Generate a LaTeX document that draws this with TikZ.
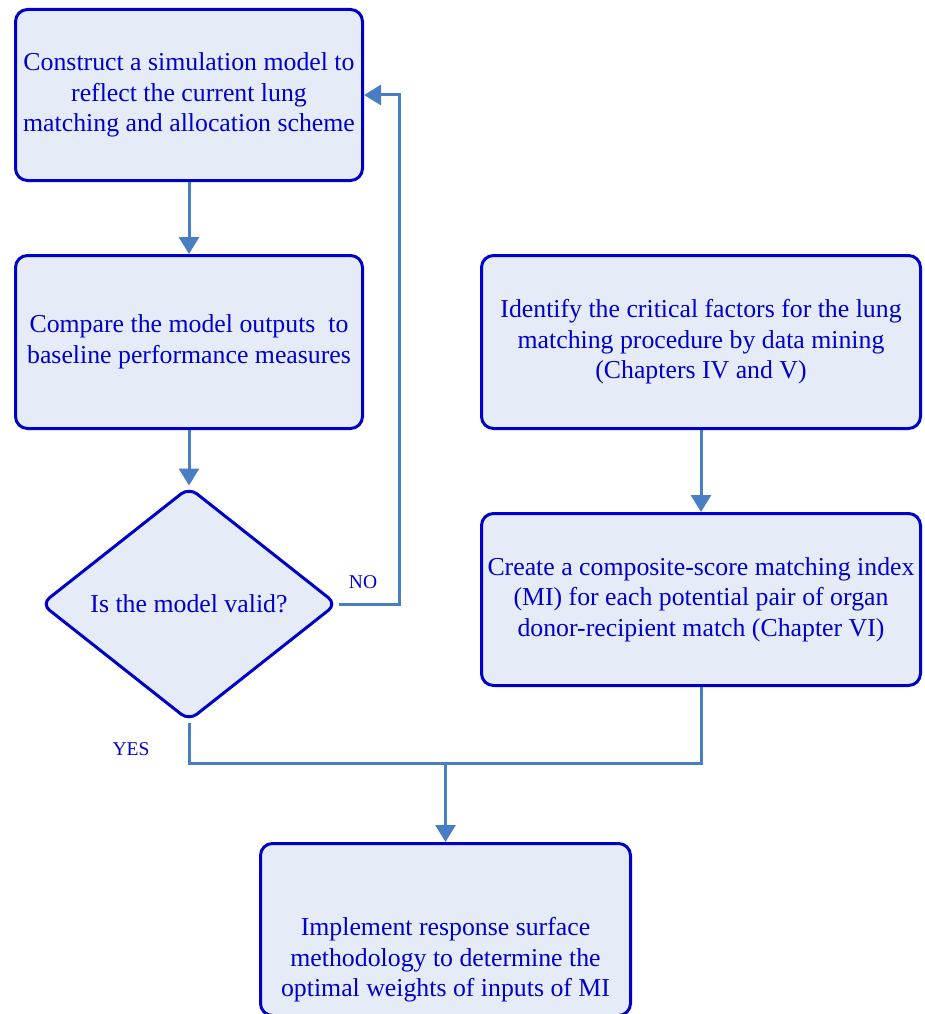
\documentclass[tikz,border=0pt]{standalone}
\usepackage{fontspec}
\setmainfont{Liberation Serif}
\usetikzlibrary{arrows.meta,shapes.geometric}
\definecolor{boxfill}{RGB}{230,236,247}
\definecolor{boxline}{RGB}{0,0,200}
\definecolor{txtc}{RGB}{0,0,204}
\definecolor{connc}{RGB}{74,126,196}
\begin{document}
\begin{tikzpicture}[x=1pt,y=-1pt,
  box/.style={draw=boxline, fill=boxfill, line width=3pt, rounded corners=12pt, inner sep=0pt, text=txtc, align=center, font=\fontsize{25.8}{30.5}\selectfont},
  dia/.style={diamond, draw=boxline, fill=boxfill, line width=3pt, rounded corners=10pt, inner sep=0pt, text=txtc, font=\fontsize{25.8}{30.5}\selectfont},
  conn/.style={draw=connc, line width=3pt},
  arr/.style={conn, -{Triangle[width=20pt,length=17pt]}},
  lbl/.style={text=txtc, font=\fontsize{19.5}{22}\selectfont, inner sep=0pt},
  txtnode/.style={text=txtc, align=center, inner sep=0pt, font=\fontsize{25.8}{30.5}\selectfont}]
\useasboundingbox (0,0) rectangle (924,1014);
\node[box, minimum width=347pt, minimum height=171pt] (b1) at (189,95) {Construct a simulation model to\\reflect the current lung\\matching and allocation scheme};
\node[box, minimum width=347pt, minimum height=173pt] (b2) at (189,342) {Compare the model outputs~ to\\baseline performance measures};
\node[dia, minimum width=296pt, minimum height=234pt] (d) at (189,604) {Is the model valid?};
\node[box, minimum width=439pt, minimum height=173pt] (b3) at (701,342) {Identify the critical factors for the lung\\matching procedure by data mining\\(Chapters IV and V)};
\node[box, minimum width=439pt, minimum height=172pt] (b4) at (701,599.5) {Create a composite-score matching index\\(MI) for each potential pair of organ\\donor-recipient match (Chapter VI)};
\node[box, minimum width=370pt, minimum height=172pt] (b5) at (445.5,929.5) {};
\node[txtnode] (t5) at (445.5,960) {Implement response surface\\methodology to determine the\\optimal weights of inputs of MI};
\coordinate (nr) at (399,604);
\coordinate (j) at (445.5,763);
\draw[arr] (b1.south) -- (b2.north);
\draw[arr] (b2.south) -- (d.north);
\draw[arr] (b3.south) -- (b4.north);
\draw[arr] (d.east) -- (nr) |- (b1.east);
\draw[conn] (d.south) |- (b4.south |- j) -- (b4.south);
\draw[arr] (j) -- (b5.north);
\node[lbl] (no) at (363,582) {NO};
\node[lbl] (yes) at (131,749) {YES};
\end{tikzpicture}
\end{document}
